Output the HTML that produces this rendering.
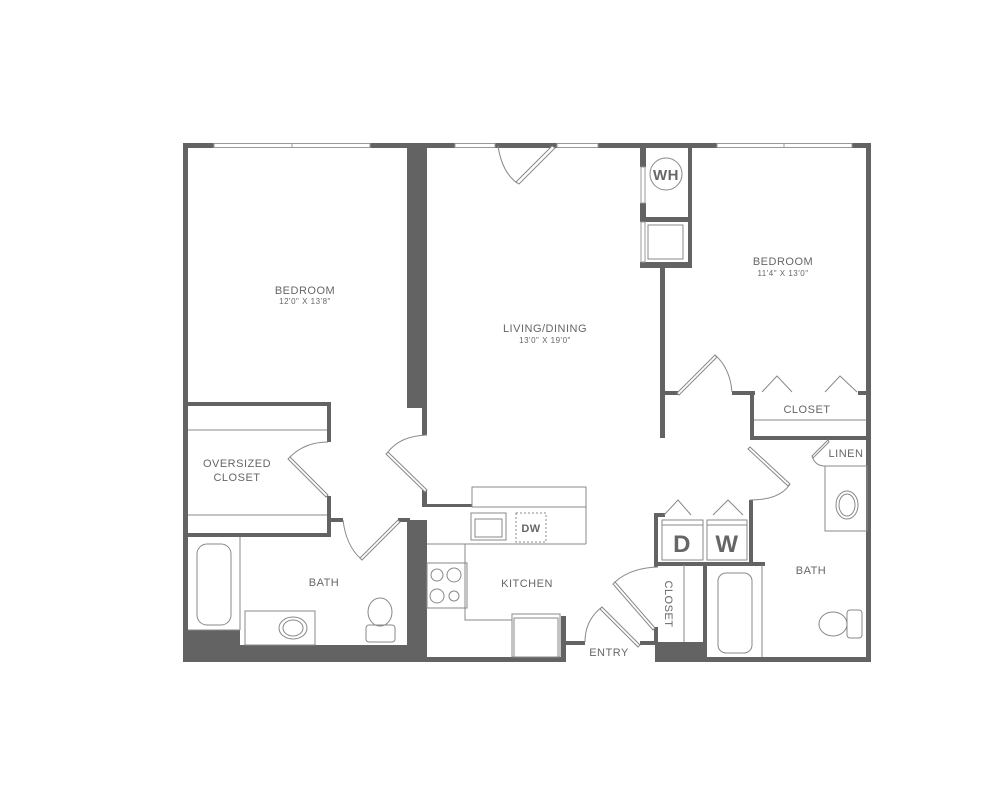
<!DOCTYPE html>
<html><head><style>
html,body{margin:0;padding:0;background:#fff;}
svg{display:block}
text{font-family:"Liberation Sans",sans-serif;fill:#666;text-anchor:middle;letter-spacing:0.5px}
</style></head><body>
<svg width="1000" height="788" viewBox="0 0 1000 788" xmlns="http://www.w3.org/2000/svg">
<g fill="#636363">
<rect x="183" y="143" width="688" height="5"/>
<rect x="183" y="143" width="5" height="517"/>
<rect x="866" y="143" width="5" height="519"/>
<rect x="407" y="148" width="20" height="260"/>
<rect x="422" y="408" width="5" height="27"/>
<rect x="422" y="490" width="5" height="17"/>
<rect x="407" y="520" width="20" height="142"/>
<rect x="183" y="645" width="244" height="17"/>
<rect x="188" y="630" width="52" height="15"/>
<rect x="188" y="402" width="143" height="4"/>
<rect x="327" y="402" width="4" height="40"/>
<rect x="327" y="496" width="4" height="40"/>
<rect x="188" y="533" width="143" height="4"/>
<rect x="331" y="518" width="12" height="4"/>
<rect x="398" y="518" width="12" height="4"/>
<rect x="427" y="504" width="45" height="3"/>
<rect x="427" y="657" width="139" height="5"/>
<rect x="561" y="616" width="5" height="46"/>
<rect x="561" y="641" width="24" height="4"/>
<rect x="640" y="146" width="6" height="21"/>
<rect x="640" y="203" width="6" height="15"/>
<rect x="640" y="217" width="52" height="5"/>
<rect x="688" y="146" width="4" height="122"/>
<rect x="640" y="262" width="52" height="6"/>
<rect x="660" y="268" width="5" height="170"/>
<rect x="665" y="391" width="13" height="4"/>
<rect x="732" y="391" width="23" height="4"/>
<rect x="750" y="391" width="4" height="49"/>
<rect x="858" y="391" width="9" height="4"/>
<rect x="750" y="436" width="121" height="4"/>
<rect x="749" y="500" width="4" height="65"/>
<rect x="654" y="513" width="4" height="54"/>
<rect x="654" y="513" width="11" height="4"/>
<rect x="654" y="562" width="111" height="4"/>
<rect x="654" y="627" width="4" height="16"/>
<rect x="703" y="565" width="4" height="95"/>
<rect x="640" y="641" width="15" height="4"/>
<rect x="655" y="642" width="52" height="20"/>
<rect x="707" y="657" width="164" height="5"/>
</g>
<g fill="#fff" stroke="#999" stroke-width="1">
<rect x="214" y="143.5" width="156" height="4"/>
<rect x="455" y="143.5" width="40" height="4"/>
<rect x="557" y="143.5" width="41" height="4"/>
<rect x="717" y="143.5" width="135" height="4"/>
<rect x="641" y="167" width="4" height="36"/>
<rect x="641" y="222" width="4" height="40"/>
</g>
<g stroke="#999" stroke-width="1">
<line x1="292" y1="143" x2="292" y2="148"/><line x1="784" y1="143" x2="784" y2="148"/>
</g>
<g fill="#fff" stroke="#888" stroke-width="1">
<polygon points="516,182 552,146 555,148 519,184"/>
<polygon points="388,452 427,490 425,492 386,454"/>
<polygon points="290,457 328,495 326,497 288,459"/>
<polygon points="360,558 398,520 400,522 362,560"/>
<polygon points="677,393 715,355 717,357 679,395"/>
<polygon points="750,447 790,484 788,486 748,449"/>
<polygon points="615,582 655,628 653,630 613,584"/>
<polygon points="602,607 640,645 638,647 600,609"/>
<polygon points="812,456 828,440 829,442 813,458"/>
</g>
<g fill="none" stroke="#888" stroke-width="1">
<path d="M498,146 Q502,172 517,183"/>
<path d="M388,452 Q400,436 427,435"/>
<path d="M290,457 Q305,442 328,442"/>
<path d="M343,520 Q346,545 360,558"/>
<path d="M715,355 Q730,368 732,392"/>
<path d="M750,500 Q780,500 790,484"/>
<path d="M615,582 Q630,568 658,567"/>
<path d="M602,607 Q585,620 585,642"/>
<path d="M812,456 Q815,466 825,466"/>
<line x1="754" y1="420" x2="866" y2="420"/>
<polyline points="762,392 777,376 792,392"/>
<polyline points="825,392 840,376 857,392"/>
<line x1="188" y1="430" x2="327" y2="430"/>
<line x1="188" y1="515" x2="327" y2="515"/>
<line x1="240" y1="537" x2="240" y2="630"/>
<line x1="188" y1="630" x2="240" y2="630"/>
<rect x="197" y="544" width="34" height="81" rx="10"/>
<rect x="245" y="611" width="70" height="34"/>
<ellipse cx="293" cy="628" rx="14" ry="11"/><ellipse cx="293" cy="628" rx="10" ry="8"/>
<rect x="366" y="625" width="29" height="17" rx="3"/>
<ellipse cx="380" cy="612" rx="12" ry="14"/>
<rect x="472" y="487" width="114" height="20"/>
<polyline points="427,544 465,544 465,620 512,620"/>
<line x1="472" y1="507" x2="586" y2="507"/><line x1="586" y1="507" x2="586" y2="544"/><line x1="465" y1="544" x2="586" y2="544"/>
<rect x="471" y="513" width="35" height="27"/><rect x="475" y="519" width="27" height="18"/>
<rect x="516" y="513" width="30" height="29" stroke-dasharray="2,2"/>
<rect x="427" y="563" width="40" height="45"/>
<circle cx="437" cy="575" r="6"/><circle cx="454" cy="575" r="7"/><circle cx="437" cy="596" r="7"/><circle cx="454" cy="596" r="5"/>
<rect x="512" y="614" width="48" height="43"/><rect x="514" y="618" width="44" height="39"/>
<circle cx="666" cy="174" r="16"/>
<rect x="648" y="225" width="35" height="34"/>
<polyline points="664,515 678,500 691,515"/>
<polyline points="713,515 728,500 743,515"/>
<rect x="662" y="520" width="41" height="40"/><rect x="707" y="520" width="40" height="40"/>
<line x1="662" y1="525" x2="703" y2="525"/><line x1="707" y1="525" x2="747" y2="525"/>
<line x1="684" y1="565" x2="684" y2="642"/>
<line x1="762" y1="565" x2="762" y2="657"/>
<rect x="718" y="573" width="34" height="80" rx="8"/>
<line x1="825" y1="466" x2="866" y2="466"/>
<rect x="825" y="466" width="42" height="65"/>
<ellipse cx="847" cy="505" rx="11" ry="14"/><ellipse cx="847" cy="505" rx="8" ry="11"/>
<rect x="847" y="610" width="15" height="28" rx="3"/>
<ellipse cx="833" cy="624" rx="14" ry="12"/>
</g>
<text x="666" y="180" font-size="15" font-weight="bold">WH</text>
<text x="682" y="552" font-size="24" font-weight="bold">D</text>
<text x="727" y="552" font-size="24" font-weight="bold">W</text>
<text x="531" y="532" font-size="11" font-weight="bold">DW</text>
<text x="305" y="294" font-size="11">BEDROOM</text>
<text x="305" y="304" font-size="8">12'0" X 13'8"</text>
<text x="545" y="332" font-size="11">LIVING/DINING</text>
<text x="545" y="343" font-size="8">13'0" X 19'0"</text>
<text x="783" y="265" font-size="11">BEDROOM</text>
<text x="783" y="276" font-size="8">11'4" X 13'0"</text>
<text x="807" y="413" font-size="11">CLOSET</text>
<text x="846" y="457" font-size="11">LINEN</text>
<text x="811" y="574" font-size="11">BATH</text>
<text x="609" y="656" font-size="11">ENTRY</text>
<text x="527" y="587" font-size="11">KITCHEN</text>
<text x="324" y="586" font-size="11">BATH</text>
<text x="237" y="467" font-size="11">OVERSIZED</text>
<text x="237" y="481" font-size="11">CLOSET</text>
<text x="0" y="0" font-size="11" transform="translate(665,604) rotate(90)">CLOSET</text>
</svg>
</body></html>
